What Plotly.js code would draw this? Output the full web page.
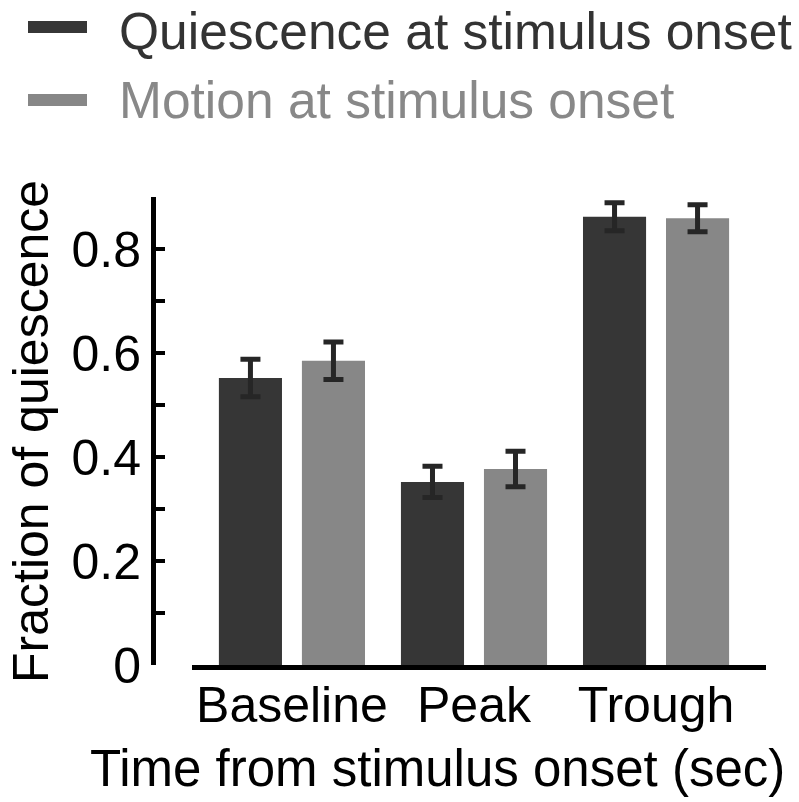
<!DOCTYPE html>
<html>
<head>
<meta charset="utf-8">
<script src="https://cdn.plot.ly/plotly-3.0.1.min.js"></script>
<style>
  html, body { margin: 0; padding: 0; background: #ffffff; }
  #chart { width: 799px; height: 802px; }
</style>
</head>
<body>
<div id="chart"></div>
<script>
// ---- data ----
const categories = ['Baseline', 'Peak', 'Trough'];
const seriesNames = ['Quiescence at stimulus onset', 'Motion at stimulus onset'];
const quiescenceMean = [0.552, 0.352, 0.862];
const quiescenceErr  = [0.036, 0.030, 0.027];
const motionMean     = [0.585, 0.377, 0.859];
const motionErr      = [0.036, 0.034, 0.026];
const yTickVals  = [0, 0.1, 0.2, 0.3, 0.4, 0.5, 0.6, 0.7, 0.8, 0.9];
const yTickText  = ['0', '', '0.2', '', '0.4', '', '0.6', '', '0.8', ''];
const xTitle = 'Time from stimulus onset (sec)';
const yTitle = 'Fraction of quiescence';

// ---- styling ----
const W = 799, H = 802;
const M = { l: 153, r: 33, t: 197, b: 137 };
const PW = W - M.l - M.r, PH = H - M.t - M.b;
const px = x => (x - M.l) / PW;          // pixel -> paper x
const py = y => (H - M.b - y) / PH;      // pixel -> paper y
const FONT = '"Liberation Sans", Arial, Helvetica, sans-serif';
const colors = ['#363636', '#878787'];
const textColors = ['#333333', '#888888'];

const errStyle = { type: 'data', visible: true, color: '#262626', thickness: 5, width: 10 };

const traces = [
  { type: 'bar', name: seriesNames[0], x: categories, y: quiescenceMean,
    marker: { color: colors[0] }, showlegend: false,
    error_y: Object.assign({ array: quiescenceErr }, errStyle) },
  { type: 'bar', name: seriesNames[1], x: categories, y: motionMean,
    marker: { color: colors[1] }, showlegend: false,
    error_y: Object.assign({ array: motionErr }, errStyle) }
];

const legendY = [27, 100];
const legendTextTop = [0, 69];
const shapes = [];
const annotations = [];
seriesNames.forEach((n, i) => {
  shapes.push({ type: 'line', xref: 'paper', yref: 'paper',
    x0: px(28), x1: px(87), y0: py(legendY[i]), y1: py(legendY[i]),
    line: { color: colors[i], width: 12 } });
  annotations.push({ xref: 'paper', yref: 'paper', x: px(117), y: py(legendTextTop[i]),
    xanchor: 'left', yanchor: 'top', showarrow: false, text: n,
    font: { family: FONT, size: 51.5, color: textColors[i] } });
});
annotations.push({ xref: 'paper', yref: 'paper', x: px(437), y: py(768),
  xanchor: 'center', yanchor: 'middle', showarrow: false, text: xTitle,
  font: { family: FONT, size: 51, color: '#000' } });
annotations.push({ xref: 'paper', yref: 'paper', x: px(1), y: py(432),
  xanchor: 'left', yanchor: 'middle', showarrow: false, text: yTitle, textangle: -90,
  font: { family: FONT, size: 50, color: '#000' } });

const layout = {
  width: W, height: H,
  margin: M,
  paper_bgcolor: '#ffffff', plot_bgcolor: '#ffffff',
  font: { family: FONT, size: 50, color: '#000' },
  barmode: 'group', bargap: 0.088, bargroupgap: 0.24,
  showlegend: false,
  xaxis: {
    domain: [px(192) , 1],
    type: 'category', range: [-0.549, 2.604],
    showline: true, linecolor: '#000', linewidth: 5,
    ticks: '', showgrid: false, zeroline: false,
    ticklabelstandoff: -8,
    tickfont: { family: FONT, size: 50, color: '#000' }
  },
  yaxis: {
    anchor: 'free', position: 0,
    range: [0, 0.9], tickvals: yTickVals, ticktext: yTickText,
    showline: true, linecolor: '#000', linewidth: 5,
    ticks: 'inside', ticklen: 9, tickwidth: 4, tickcolor: '#000',
    showgrid: false, zeroline: false,
    tickfont: { family: FONT, size: 50, color: '#000' }
  },
  shapes: shapes,
  annotations: annotations
};

Plotly.newPlot('chart', traces, layout, { displayModeBar: false, staticPlot: true });
</script>
</body>
</html>
